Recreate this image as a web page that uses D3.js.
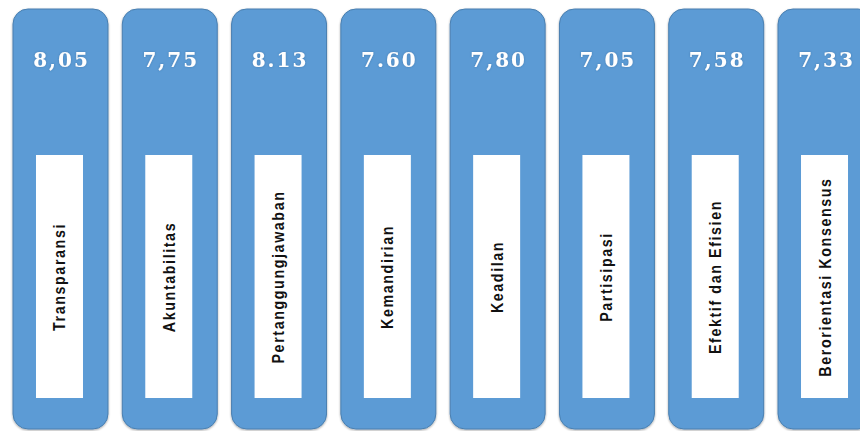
<!DOCTYPE html>
<html>
<head>
<meta charset="utf-8">
<script src="https://cdn.jsdelivr.net/npm/d3@7/dist/d3.min.js"></script>
<style>
  html, body { margin: 0; padding: 0; background: #ffffff; overflow: hidden; }
  svg { display: block; }
</style>
</head>
<body>
<svg id="chart" width="860" height="431"></svg>
<script>
// Governance principles and their index scores
const categories = [
  "Transparansi", "Akuntabilitas", "Pertanggungjawaban", "Kemandirian",
  "Keadilan", "Partisipasi", "Efektif dan Efisien", "Berorientasi Konsensus"
];
const scores = [8.05, 7.75, 8.13, 7.60, 7.80, 7.05, 7.58, 7.33];
// Score labels as printed (mixed decimal separators)
const scoreLabels = ["8,05", "7,75", "8.13", "7.60", "7,80", "7,05", "7,58", "7,33"];

const svg = d3.select("#chart");

const x = d3.scaleBand()
  .domain(categories)
  .range([13, 873])
  .paddingInner(0.131)
  .paddingOuter(0);

// vertical extent of each card
const y = d3.scaleLinear().domain([0, 1]).range([9, 429]);

const defs = svg.append("defs");
const sh = defs.append("filter").attr("id", "cardShadow")
  .attr("x", "-10%").attr("y", "-10%").attr("width", "120%").attr("height", "120%");
sh.append("feDropShadow").attr("dx", 0).attr("dy", 1).attr("stdDeviation", 1.2)
  .attr("flood-color", "#000").attr("flood-opacity", 0.35);

const glow = defs.append("filter").attr("id", "textGlow")
  .attr("x", "-20%").attr("y", "-40%").attr("width", "140%").attr("height", "180%");
glow.append("feGaussianBlur").attr("in", "SourceAlpha").attr("stdDeviation", 1).attr("result", "b");
glow.append("feFlood").attr("flood-color", "#2c5c8c").attr("flood-opacity", 0.5);
glow.append("feComposite").attr("in2", "b").attr("operator", "in").attr("result", "g");
const m = glow.append("feMerge");
m.append("feMergeNode").attr("in", "g");
m.append("feMergeNode").attr("in", "SourceGraphic");

const data = categories.map((c, i) => ({ cat: c, score: scores[i], label: scoreLabels[i] }));

const cards = svg.selectAll("g.card")
  .data(data)
  .join("g")
  .attr("class", "card")
  .attr("transform", d => `translate(${x(d.cat)},0)`);

const bw = x.bandwidth();

cards.append("rect")
  .attr("x", 0)
  .attr("y", y(0))
  .attr("width", bw)
  .attr("height", y(1) - y(0))
  .attr("rx", 15).attr("ry", 15)
  .attr("fill", "#5b9bd5")
  .attr("stroke", "#4a7fb0")
  .attr("stroke-width", 1)
  .attr("filter", "url(#cardShadow)");

// score value at the top of each card
cards.append("text")
  .attr("x", bw / 2 + 1)
  .attr("y", 67)
  .attr("text-anchor", "middle")
  .attr("font-family", "DejaVu Serif, serif")
  .attr("font-weight", "bold")
  .attr("font-size", 20)
  .attr("letter-spacing", 2)
  .attr("fill", "#ffffff")
  .attr("filter", "url(#textGlow)")
  .text(d => d.label);

// white label panel
const panelW = 47;
cards.append("rect")
  .attr("x", bw / 2 - panelW / 2 - 1)
  .attr("y", 155)
  .attr("width", panelW)
  .attr("height", 243)
  .attr("fill", "#ffffff");

cards.append("text")
  .attr("transform", `translate(${bw / 2 + 5},277) rotate(-90) scale(0.84,1)`)
  .attr("text-anchor", "middle")
  .attr("font-family", "Liberation Sans, Arial, sans-serif")
  .attr("font-weight", "bold")
  .attr("font-size", 17)
  .attr("letter-spacing", 1.9)
  .attr("fill", "#111111")
  .text(d => d.cat);
</script>
</body>
</html>
